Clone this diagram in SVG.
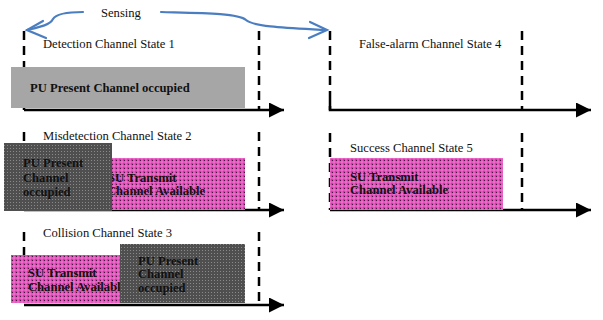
<svg xmlns="http://www.w3.org/2000/svg" width="603" height="320" viewBox="0 0 603 320">
<style>
.lbl{font-family:"Liberation Serif","Times New Roman",serif;font-size:12.6px;fill:#111}
.bold{font-family:"Liberation Serif","Times New Roman",serif;font-size:12.6px;font-weight:bold;fill:#111}
.dash{stroke:#000;stroke-width:2.5;stroke-dasharray:9 6;fill:none}
.axis{stroke:#000;stroke-width:2.5;fill:none}
.blue{stroke:#4a7ec0;stroke-width:2.2;fill:none;stroke-linecap:round}
</style>
<defs>
<pattern id="pink" width="4" height="4" patternUnits="userSpaceOnUse">
<rect width="4" height="4" fill="#d936a8"/>
<rect x="0" y="1.5" width="4" height="1" fill="#f47ad6"/>
<rect x="1.5" y="0" width="1" height="4" fill="#f47ad6"/>
<rect x="0" y="0" width="1" height="1" fill="#4a1540"/>
</pattern>
<pattern id="dark" width="3" height="3" patternUnits="userSpaceOnUse">
<rect width="3" height="3" fill="#4f4f4f"/>
<rect x="1" y="1" width="1" height="1" fill="#8a8a8a"/>
</pattern>
<marker id="ah" markerWidth="16" markerHeight="16" refX="15" refY="7.5" orient="auto" markerUnits="userSpaceOnUse">
<path d="M0,0 L15,7.5 L0,15 Z" fill="#000"/>
</marker>
</defs>

<g id="connectors">
<path class="dash" d="M24,31 V110"/>
<path class="dash" d="M259,31 V110"/>
<path class="dash" d="M330,31 V110"/>
<path class="dash" d="M522,31 V110"/>
<path class="dash" d="M24,132 V150"/>
<path class="dash" d="M259,132 V210"/>
<path class="dash" d="M330,133 V210"/>
<path class="dash" d="M522,133 V210"/>
<path class="dash" d="M24,232 V256"/>
<path class="dash" d="M259,232 V305"/>
<path class="axis" d="M24,110 H284" marker-end="url(#ah)"/>
<path class="axis" d="M24,210 H284" marker-end="url(#ah)"/>
<path class="axis" d="M24,305 H284" marker-end="url(#ah)"/>
<path class="axis" d="M330,100 V110 H591" marker-end="url(#ah)"/>
<path class="axis" d="M330,210 H591" marker-end="url(#ah)"/>
<path class="blue" d="M83,12 C66,12 56,14 53,19 C50,25 40,27 27,30"/>
<path class="blue" d="M43,21 L27,30 L46,38"/>
<path class="blue" d="M161,12 C200,13 238,13 246,20 C254,27 290,28 326,30"/>
<path class="blue" d="M310,22 L327,30 L309,38"/>
</g>

<g id="sensing"><text class="lbl" x="101" y="17">Sensing</text></g>

<g id="state1">
<text class="lbl" x="43" y="48">Detection Channel State 1</text>
<rect x="11" y="67" width="234" height="41" fill="#a6a6a6"/>
<text class="bold" x="30" y="92">PU Present Channel occupied</text>
</g>

<g id="state4">
<text class="lbl" x="359" y="48">False-alarm Channel State 4</text>
</g>

<g id="state2">
<text class="lbl" x="43" y="140">Misdetection Channel State 2</text>
<rect x="112" y="158" width="133" height="52" fill="url(#pink)"/>
<text class="bold" x="108" y="182">SU Transmit</text>
<text class="bold" x="107" y="195">Channel Available</text>
<rect x="4" y="143" width="108" height="68" fill="url(#dark)"/>
<text class="bold" x="23" y="167" fill="#1a1a1a">PU Present</text>
<text class="bold" x="23" y="182" fill="#1a1a1a">Channel</text>
<text class="bold" x="23" y="196" fill="#1a1a1a">occupied</text>
</g>

<g id="state5">
<text class="lbl" x="350" y="152">Success Channel State 5</text>
<rect x="330" y="158" width="173" height="52" fill="url(#pink)"/>
<text class="bold" x="350" y="181">SU Transmit</text>
<text class="bold" x="350" y="194">Channel Available</text>
</g>

<g id="state3">
<text class="lbl" x="43" y="237">Collision Channel State 3</text>
<rect x="11" y="255" width="109" height="48" fill="url(#pink)"/>
<text class="bold" x="28" y="277">SU Transmit</text>
<text class="bold" x="28" y="291">Channel Available</text>
<rect x="120" y="244" width="125" height="59" fill="url(#dark)"/>
<text class="bold" x="138" y="265" fill="#1a1a1a">PU Present</text>
<text class="bold" x="138" y="278" fill="#1a1a1a">Channel</text>
<text class="bold" x="138" y="292" fill="#1a1a1a">occupied</text>
</g>
</svg>
